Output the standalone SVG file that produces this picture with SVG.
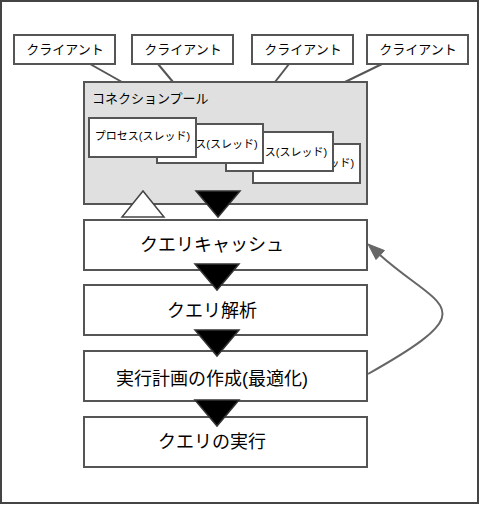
<svg xmlns="http://www.w3.org/2000/svg" width="480" height="506" viewBox="0 0 480 506">
<style>
.box{fill:#fff;stroke:#555;stroke-width:2}
.pool{fill:#e0e0e0;stroke:#555;stroke-width:2}
.t{font-family:"Liberation Sans","Noto Sans CJK JP",sans-serif;fill:#000;text-anchor:middle}
.cl{font-size:13px}
.pr{font-size:11px}
.big{font-size:18px}
.ln{stroke:#555;stroke-width:2;fill:none}
.tri{fill:#000;stroke:#333;stroke-width:1.5}
.wtri{fill:#fff;stroke:#444;stroke-width:1.5}
</style>
<rect x="1" y="1" width="477" height="502" fill="#fff" stroke="#444" stroke-width="2"/>
<g id="connectors">
<line class="ln" x1="90" y1="64" x2="122" y2="82"/>
<line class="ln" x1="158" y1="64" x2="173" y2="82"/>
<line class="ln" x1="289" y1="64" x2="275" y2="82"/>
<line class="ln" x1="382" y1="64" x2="345" y2="82"/>
</g>
<g id="client1"><rect class="box" x="14" y="35" width="101" height="29"/><text class="t cl" x="65" y="54">クライアント</text></g>
<g id="client2"><rect class="box" x="132" y="35" width="101" height="29"/><text class="t cl" x="183" y="54">クライアント</text></g>
<g id="client3"><rect class="box" x="252" y="35" width="101" height="29"/><text class="t cl" x="303" y="54">クライアント</text></g>
<g id="client4"><rect class="box" x="367" y="35" width="101" height="29"/><text class="t cl" x="418" y="54">クライアント</text></g>
<g id="pool">
<rect class="pool" x="84" y="82" width="283" height="122"/>
<text class="t cl" x="92" y="103" style="text-anchor:start">コネクションプール</text>
</g>
<g id="process4"><rect class="box" x="253" y="144" width="107" height="39"/><text class="t pr" x="306.5" y="167">プロセス(スレッド)</text></g>
<g id="process3"><rect class="box" x="226" y="132" width="107" height="39"/><text class="t pr" x="279.5" y="156">プロセス(スレッド)</text></g>
<g id="process2"><rect class="box" x="157" y="124" width="106" height="39"/><text class="t pr" x="210" y="148">プロセス(スレッド)</text></g>
<g id="process1"><rect class="box" x="89" y="118" width="107" height="39"/><text class="t pr" x="142.5" y="140">プロセス(スレッド)</text></g>
<g id="cache"><rect class="box" x="84" y="220" width="283" height="50"/><text class="t big" x="212" y="251">クエリキャッシュ</text></g>
<g id="parse"><rect class="box" x="84" y="285" width="283" height="50"/><text class="t big" x="212" y="317">クエリ解析</text></g>
<g id="plan"><rect class="box" x="84" y="351" width="283" height="50"/><text class="t big" x="212" y="385">実行計画の作成(最適化)</text></g>
<g id="exec"><rect class="box" x="84" y="417" width="283" height="50"/><text class="t big" x="212" y="448">クエリの実行</text></g>
<g id="arrows">
<polygon class="wtri" points="122,217 164,217 143,191"/>
<polygon class="tri" points="196,191 240,191 218,217"/>
<polygon class="tri" points="195,264 239,264 217,290"/>
<polygon class="tri" points="195,330 239,330 217,356"/>
<polygon class="tri" points="195,400 239,400 217,426"/>
<path d="M368,374 C489,306 440,309 380,255" fill="none" stroke="#666" stroke-width="2"/>
<polygon points="368,244 376,259.5 384.5,250.5" fill="#666" stroke="#666" stroke-width="1"/>
</g>
</svg>
